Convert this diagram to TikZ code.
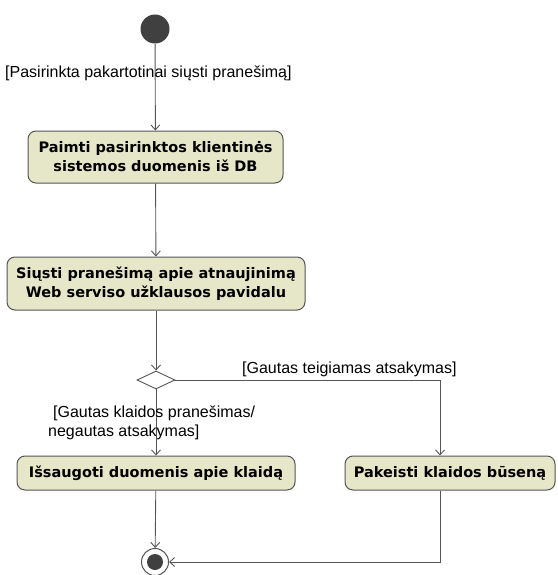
\documentclass[tikz,border=0pt]{standalone}
\usepackage{fontspec}
\setmainfont{Liberation Sans}
\newfontfamily\actfont{DejaVu Sans}
\usetikzlibrary{arrows.meta,shapes.geometric}
\definecolor{actfill}{RGB}{230,230,200}
\definecolor{lineclr}{RGB}{85,85,85}
\definecolor{dotclr}{RGB}{64,64,64}
\tikzset{
  activity/.style={draw=lineclr, line width=1pt, fill=actfill, rounded corners=8pt,
    align=center, inner sep=0pt, font=\actfont\bfseries\fontsize{14.5}{19}\selectfont},
  guard/.style={font=\fontsize{16}{19}\selectfont, inner sep=0pt, align=left},
  flow/.style={draw=lineclr, line width=0.9pt, -{Straight Barb[length=5pt,width=9pt]}},
  decision/.style={draw=lineclr, line width=0.9pt, fill=white, diamond, aspect=2.1,
    inner sep=0pt, minimum width=38pt, minimum height=18pt},
  startnode/.style={circle, fill=dotclr, minimum size=29pt, inner sep=0pt},
  endring/.style={circle, draw=lineclr, line width=1pt, fill=white, minimum size=27pt, inner sep=0pt},
  enddot/.style={circle, fill=dotclr, minimum size=16pt, inner sep=0pt}
}
\begin{document}
\begin{tikzpicture}[x=1pt,y=-1pt]
\useasboundingbox (0,0) rectangle (557,575);

\node[startnode] (start) at (155,29) {};

\node[activity, minimum width=255pt, minimum height=52pt] (fetch) at (155.5,157)
  {Paimti pasirinktos klientinės\\sistemos duomenis iš DB};
\node[activity, minimum width=298pt, minimum height=53pt] (send) at (156,283.5)
  {Siųsti pranešimą apie atnaujinimą\\Web serviso užklausos pavidalu};
\node[decision] (dec) at (156,380) {};
\node[activity, minimum width=278pt, minimum height=34pt] (save) at (156,473)
  {Išsaugoti duomenis apie klaidą};
\node[activity, minimum width=210pt, minimum height=34pt] (change) at (450,473)
  {Pakeisti klaidos būseną};
\node[endring] (end) at (155,562) {};
\node[enddot] (enddot) at (end.center) {};

\draw[flow] (start) -- (fetch);
\draw[flow] (fetch) -- (send);
\draw[flow] (send) -- (dec);
\draw[flow] (dec) -- (save);
\draw[flow] (dec.east) -| (change.north -| 440,0);
\draw[flow] (save) -- (end);
\coordinate (cturn) at (440,562);
\draw[flow] (change.south -| cturn) |- (end.east);

\node[guard, anchor=west] (g1) at (5,73) {[Pasirinkta pakartotinai siųsti pranešimą]};
\node[guard, anchor=west] (g2) at (242,369) {[Gautas teigiamas atsakymas]};
\node[guard, anchor=west] (g3) at (48,423) {\hspace*{5pt}[Gautas klaidos pranešimas/\\negautas atsakymas]};
\end{tikzpicture}
\end{document}
